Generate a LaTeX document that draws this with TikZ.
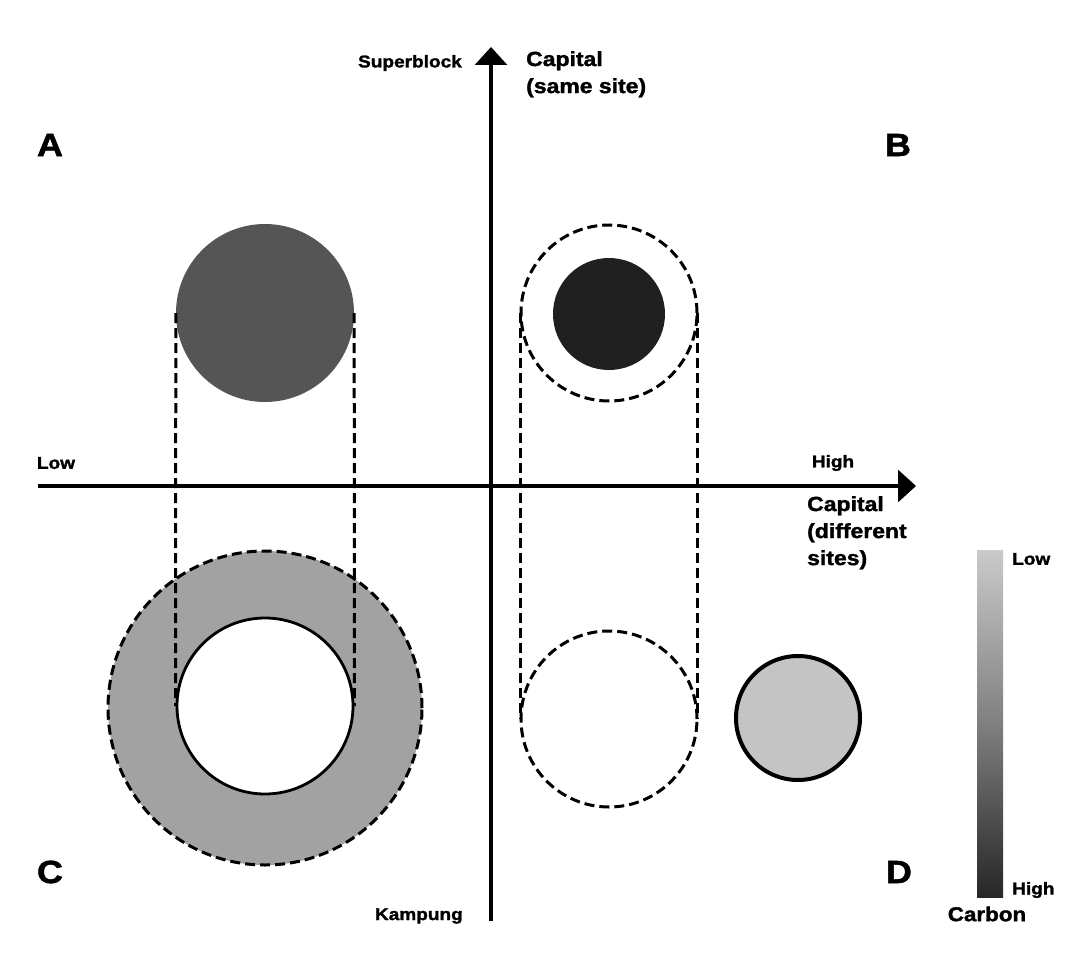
\documentclass[tikz,border=0pt]{standalone}
\usepackage{fontspec}
\setmainfont{Liberation Sans}[FakeStretch=1.12, BoldFeatures={FakeBold=1.6}]
\usetikzlibrary{arrows.meta}
\definecolor{darkA}{HTML}{555555}
\definecolor{darkB}{HTML}{202020}
\definecolor{ringC}{HTML}{A2A2A2}
\definecolor{lightD}{HTML}{C4C4C4}
\definecolor{barTop}{HTML}{CACACA}
\definecolor{barBot}{HTML}{262626}
\tikzset{
  lbl/.style={font=\bfseries\fontsize{17}{19}\selectfont, inner sep=0pt},
  biglbl/.style={font=\bfseries\fontsize{20.5}{27}\selectfont, inner sep=0pt, align=left},
  quad/.style={font=\bfseries\fontsize{32}{34}\selectfont, inner sep=0pt},
  axis/.style={line width=3.2pt, -{Triangle[length=18pt,width=32pt]}},
  dashline/.style={line width=3pt, dash pattern=on 10pt off 5pt},
  disc/.style={circle, inner sep=0pt, draw=none},
}
\begin{document}
\begin{tikzpicture}[x=1pt,y=-1pt]
\useasboundingbox (0,0) rectangle (1090,971);
\fill[white] (0,0) rectangle (1090,971);
% axes
\coordinate (vbot) at (491,921);
\coordinate (vtop) at (491,47);
\coordinate (hleft) at (38,486);
\coordinate (hright) at (916,486);
\draw[axis] (vbot) -- (vtop);
\draw[axis] (hleft) -- (hright);
% quadrant letters
\node[quad] (qA) at (50,145) {A};
\node[quad] (qB) at (898,145) {B};
\node[quad] (qC) at (50,872) {C};
\node[quad] (qD) at (899,872) {D};
% axis labels
\node[lbl, anchor=east] (superblock) at (462,63) {Superblock};
\node[lbl, anchor=east] (kampung) at (463,916) {Kampung};
\node[lbl] (low) at (56,463) {Low};
\node[lbl] (high) at (833,463) {High};
\node[biglbl, anchor=north west] (capsame) at (526,51) {Capital\\(same site)};
\node[biglbl, anchor=north west] (capdiff) at (807,496) {Capital\\(different\\sites)};
% C ring
\node[disc, fill=ringC, minimum size=314pt] (Cout) at (265,708) {};
\draw[dashline] (Cout.center) circle (157pt);
% A circle
\node[disc, fill=darkA, minimum size=178pt] (Acirc) at (265,313) {};
% C inner
\node[disc, fill=white, draw=black, line width=2.8pt, minimum size=176pt] (Cin) at (265,706) {};
\draw[dashline] (Acirc.west) -- (Cin.west);
\draw[dashline] (Acirc.east) -- (Cin.east);
% B
\node[disc, minimum size=176pt] (Bout) at (609,313) {};
\draw[dashline] (Bout.center) circle (88pt);
\node[disc, fill=darkB, minimum size=112pt] (Bin) at (609,314) {};
\node[disc, minimum size=176pt] (Blow) at (609,719) {};
\draw[dashline] (Blow.center) circle (88pt);
\draw[dashline] (Bout.west) -- (Blow.west);
\draw[dashline] (Bout.east) -- (Blow.east);
% D
\node[disc, fill=lightD, draw=black, line width=4pt, minimum size=124pt] (Dcirc) at (798,718) {};
% colour bar
\node[inner sep=0pt, minimum width=26pt, minimum height=347pt, top color=barTop, bottom color=barBot, middle color=gray] (bar) at (990,723.5) {};
\node[lbl, anchor=west] (barlow) at (1012,559) {Low};
\node[lbl, anchor=west] (barhigh) at (1012,890) {High};
\node[font=\bfseries\fontsize{20}{22}\selectfont, inner sep=0pt] (carbon) at (987,914) {Carbon};
\end{tikzpicture}
\end{document}
